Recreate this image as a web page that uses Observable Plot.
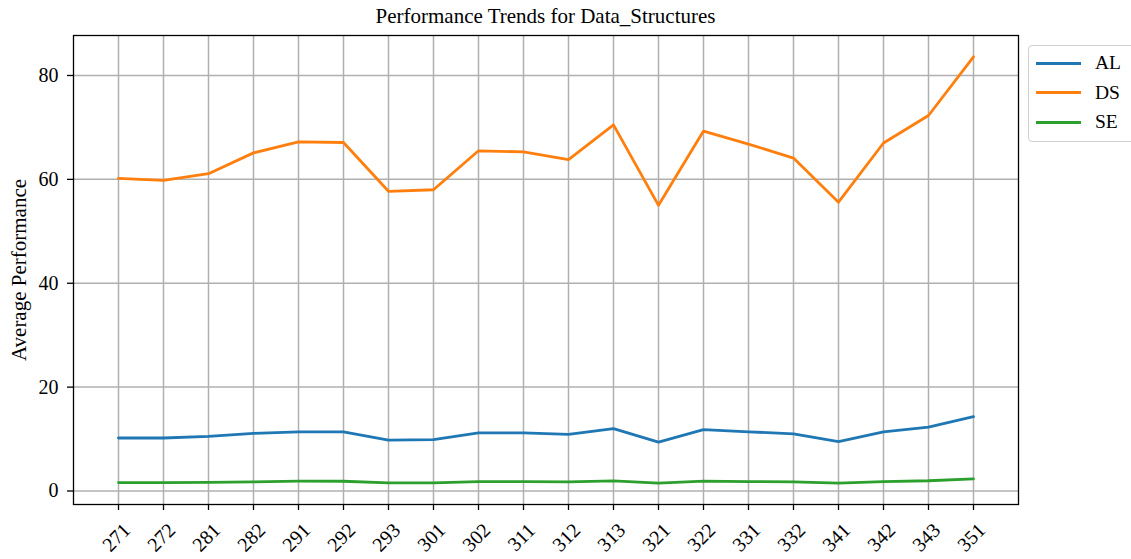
<!DOCTYPE html>
<html>
<head>
<meta charset="utf-8">
<script src="https://cdn.jsdelivr.net/npm/d3@7"></script>
<script src="https://cdn.jsdelivr.net/npm/@observablehq/plot@0.6"></script>
<style>
  body { margin: 0; background: #fff; overflow: hidden; }
  #wrap { position: relative; width: 1131px; height: 559px; overflow: hidden; font-family: "Liberation Serif", "DejaVu Serif", serif; }
  #title { position: absolute; left: 73px; width: 945px; top: 3px; text-align: center; font-size: 21px; line-height: 26px; color: #000; }
  #legend { position: absolute; left: 1028px; top: 45px; width: 110px; height: 97px; border: 1px solid #d0d0d0; border-radius: 4px; box-sizing: border-box; background: #fff; }
  .item { position: absolute; left: 0; height: 22px; width: 100%; }
  .item .sw { position: absolute; left: 7px; top: 9.5px; width: 45px; height: 3px; }
  .item .lb { position: absolute; left: 66px; top: 0; font-size: 19.5px; line-height: 22px; color: #000; }
</style>
</head>
<body>
<div id="wrap">
  <div id="chart"></div>
  <div id="title">Performance Trends for Data_Structures</div>
  <div id="legend"></div>
</div>
<script>
const categories = ["271","272","281","282","291","292","293","301","302","311","312","313","321","322","331","332","341","342","343","351"];
const seriesNames = ["AL", "DS", "SE"];
const seriesColors = ["#1f77b4", "#ff7f0e", "#2ca02c"];
const alValues = [10.2, 10.2, 10.5, 11.1, 11.4, 11.4, 9.8, 9.9, 11.2, 11.2, 10.9, 12.0, 9.4, 11.8, 11.4, 11.0, 9.5, 11.4, 12.3, 14.3];
const dsValues = [60.2, 59.8, 61.1, 65.1, 67.2, 67.1, 57.7, 58.0, 65.5, 65.3, 63.8, 70.5, 55.0, 69.3, 66.8, 64.1, 55.6, 67.0, 72.3, 83.6];
const seValues = [1.63, 1.63, 1.65, 1.76, 1.9, 1.88, 1.57, 1.58, 1.8, 1.8, 1.74, 1.95, 1.5, 1.9, 1.82, 1.76, 1.52, 1.82, 1.97, 2.35];
const yTicks = [0, 20, 40, 60, 80];

const valuesBySeries = [alValues, dsValues, seValues];
const data = [];
seriesNames.forEach((s, i) => {
  categories.forEach((c, j) => data.push({series: s, cat: c, value: valuesBySeries[i][j]}));
});

const font = '"Liberation Serif", "DejaVu Serif", serif';

const chart = Plot.plot({
  width: 1131,
  height: 559,
  marginLeft: 73,
  marginRight: 113,
  marginTop: 35,
  marginBottom: 55,
  style: { fontFamily: font, fontSize: "20px", background: "#fff", color: "#000" },
  x: { type: "point", domain: categories, padding: 0.95 },
  y: { domain: [-2.6, 87.7] },
  color: { domain: seriesNames, range: seriesColors },
  marks: [
    Plot.gridX(categories, { stroke: "#b0b0b0", strokeOpacity: 1, strokeWidth: 1.5 }),
    Plot.gridY(yTicks, { stroke: "#b0b0b0", strokeOpacity: 1, strokeWidth: 1.5 }),
    Plot.axisX({ tickSize: 6, tickFormat: () => "", label: null, strokeWidth: 1.3 }),
    Plot.text(categories, { x: d => d, frameAnchor: "bottom", dy: 33, dx: -2, rotate: -45, textAnchor: "middle", lineAnchor: "middle", fontSize: 20 }),
    Plot.axisY(yTicks, { tickSize: 6, tickPadding: 9, label: null, fontSize: 20, strokeWidth: 1.3 }),
    Plot.text(["Average Performance"], { frameAnchor: "left", dx: -54, rotate: -90, fontSize: 21, textAnchor: "middle", lineAnchor: "middle" }),
    Plot.line(data, { x: "cat", y: "value", z: "series", stroke: "series", strokeWidth: 2.8 }),
    Plot.frame({ stroke: "#000", strokeWidth: 1.3 })
  ]
});
document.getElementById("chart").appendChild(chart);

const legend = document.getElementById("legend");
seriesNames.forEach((s, i) => {
  const item = document.createElement("div");
  item.className = "item";
  item.style.top = (6 + i * 29.5) + "px";
  item.innerHTML = `<div class="sw" style="background:${seriesColors[i]}"></div><div class="lb">${s}</div>`;
  legend.appendChild(item);
});
</script>
</body>
</html>
